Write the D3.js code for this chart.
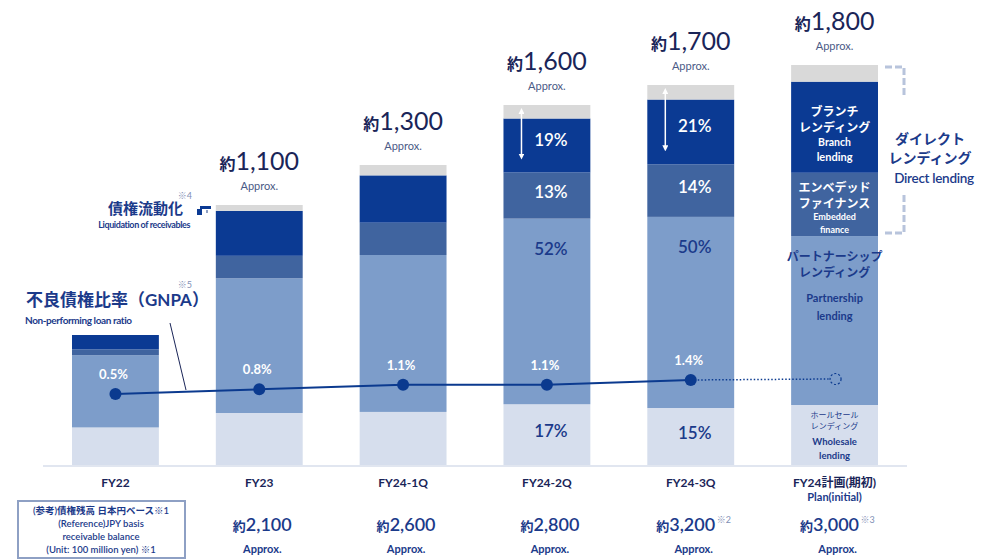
<!DOCTYPE html>
<html>
<head>
<meta charset="utf-8">
<script src="https://cdn.jsdelivr.net/npm/d3@7"></script>
<style>
  body { margin: 0; background: #fff; }
  text { font-family: Lato, "Noto Sans CJK JP", sans-serif; }
</style>
</head>
<body>
<div id="chart"></div>
<script>
// 区分・数値（単位：億円、図から読み取り）
var categories = ["FY22", "FY23", "FY24-1Q", "FY24-2Q", "FY24-3Q", "FY24計画(期初)"];
var categorySub = ["", "", "", "", "", "Plan(initial)"];
var totals = [450, 1100, 1300, 1600, 1700, 1800];
var showTotal = [false, true, true, true, true, true];
var liquidation = [0, 25, 45, 60, 65, 75];
var branch = [50, 190, 205, 240, 290, 410];
var embedded = [20, 95, 140, 205, 235, 285];
var partnership = [250, 570, 680, 825, 855, 760];
var wholesale = [130, 220, 230, 270, 255, 270];
// 構成比ラベル（%）
var branchPct = [null, null, null, 19, 21, null];
var embeddedPct = [null, null, null, 13, 14, null];
var partnershipPct = [null, null, null, 52, 50, null];
var wholesalePct = [null, null, null, 17, 15, null];
// 不良債権比率（GNPA, %）
var gnpa = [0.5, 0.8, 1.1, 1.1, 1.4];
// 債権残高 日本円ベース
var balance = [null, 2100, 2600, 2800, 3200, 3000];
var balanceNote = ["", "", "", "", "※2", "※3"];

var width = 998, height = 560;
var navy = "#1b3a8a", dark = "#1a2558";
var colors = {
    wholesale: "#d6deed",
    partnership: "#7d9dca",
    embedded: "#40649f",
    branch: "#0b3a93",
    liquidation: "#d9d9d9"
};
var keys = ["wholesale", "partnership", "embedded", "branch", "liquidation"];

var svg = d3.select("#chart").append("svg")
    .attr("width", width)
    .attr("height", height);

// 表を作る
var table = categories.map(function (c, i) {
    return {
        cat: c, total: totals[i],
        wholesale: wholesale[i], partnership: partnership[i],
        embedded: embedded[i], branch: branch[i], liquidation: liquidation[i]
    };
});
var series = d3.stack().keys(keys)(table);

var x = d3.scaleBand().domain(categories).range([72, 878]).paddingInner(0.396);
var y = d3.scaleLinear().domain([-200, 1800]).range([465, 65]);
var y2 = d3.scaleLinear().domain([0.5, 1.4]).range([394, 380]);

// 各棒の中の比例スケール
function segScale(d) {
    return d3.scaleLinear().domain([0, d.data.total]).range([y(-200), y(d.data.total)]);
}

// 基線
svg.append("line")
    .attr("x1", 43).attr("x2", 907)
    .attr("y1", y(-200) + 1).attr("y2", y(-200) + 1)
    .attr("stroke", "#e1e6f0").attr("stroke-width", 2);

// 積み上げ棒
var layer = svg.selectAll(".layer")
    .data(series)
    .enter().append("g")
    .attr("class", "layer")
    .attr("fill", function (d) { return colors[d.key]; });

layer.selectAll("rect")
    .data(function (d) { return d; })
    .enter().append("rect")
    .attr("x", function (d) { return x(d.data.cat); })
    .attr("width", x.bandwidth())
    .attr("y", function (d) { return segScale(d)(d[1]); })
    .attr("height", function (d) { return segScale(d)(d[0]) - segScale(d)(d[1]); });

function seg(key, i) {
    var s = series[keys.indexOf(key)][i];
    var sc = segScale(s);
    return {top: sc(s[1]), bottom: sc(s[0]), mid: (sc(s[0]) + sc(s[1])) / 2};
}

// 構成比ラベル
var pctGroups = [
    {arr: branchPct, key: "branch", fill: "#fff", pos: function (s) { return s.mid - 6; }},
    {arr: embeddedPct, key: "embedded", fill: "#fff", pos: function (s) { return s.mid - 4; }},
    {arr: partnershipPct, key: "partnership", fill: navy, pos: function (s) { return s.top + 30; }},
    {arr: wholesalePct, key: "wholesale", fill: navy, pos: function (s) { return s.mid - 4; }}
];
pctGroups.forEach(function (g) {
    g.arr.forEach(function (v, i) {
        if (v == null) return;
        svg.append("text")
            .attr("x", x(categories[i]) + x.bandwidth() / 2 + 4)
            .attr("y", g.pos(seg(g.key, i)) + 6)
            .attr("text-anchor", "middle")
            .attr("fill", g.fill)
            .style("font-size", "17px")
            .style("font-weight", 600)
            .text(v + "%");
    });
});

// 矢印（債権流動化の移動）
var defs = svg.append("defs");
defs.append("marker").attr("id", "arr")
    .attr("viewBox", "0 0 10 10").attr("refX", 5).attr("refY", 5)
    .attr("markerWidth", 4).attr("markerHeight", 4).attr("orient", "auto-start-reverse")
    .append("path").attr("d", "M0,0 L10,5 L0,10 z").attr("fill", "#fff");
[3, 4].forEach(function (i) {
    var l = seg("liquidation", i), b = seg("branch", i);
    svg.append("line")
        .attr("x1", x(categories[i]) + 18).attr("x2", x(categories[i]) + 18)
        .attr("y1", l.top + 6).attr("y2", b.bottom - 16)
        .attr("stroke", "#fff").attr("stroke-width", 1.5)
        .attr("marker-start", "url(#arr)").attr("marker-end", "url(#arr)");
});

// 合計ラベル
totals.forEach(function (t, i) {
    if (!showTotal[i]) return;
    var cx = x(categories[i]) + x.bandwidth() / 2;
    var top = y(t);
    var tx = svg.append("text")
        .attr("x", cx).attr("y", top - 35)
        .attr("text-anchor", "middle")
        .attr("fill", dark);
    tx.append("tspan").style("font-size", "16px").style("font-weight", 700).text("約");
    tx.append("tspan").style("font-size", "25px").text(d3.format(",")(t));
    svg.append("text")
        .attr("x", cx).attr("y", top - 15)
        .attr("text-anchor", "middle")
        .attr("fill", "#4a5a86")
        .style("font-size", "11px")
        .text("Approx.");
});

// 不良債権比率の折れ線
var line = d3.line()
    .x(function (d, i) { return x(categories[i]) + x.bandwidth() / 2; })
    .y(function (d) { return y2(d); });
svg.append("path")
    .datum(gnpa)
    .attr("d", line)
    .attr("fill", "none")
    .attr("stroke", "#0b3a8f")
    .attr("stroke-width", 2);

var lastX = x(categories[4]) + x.bandwidth() / 2;
var planX = x(categories[5]) + x.bandwidth() / 2;
svg.append("line")
    .attr("x1", lastX).attr("x2", planX - 6)
    .attr("y1", y2(gnpa[4])).attr("y2", y2(gnpa[4]) - 1)
    .attr("stroke", "#0b3a8f").attr("stroke-width", 1.5)
    .attr("stroke-dasharray", "1.5,2");
svg.append("circle")
    .attr("cx", planX + 1).attr("cy", y2(gnpa[4]) - 1).attr("r", 5.5)
    .attr("fill", "none").attr("stroke", "#0b3a8f").attr("stroke-width", 1.2)
    .attr("stroke-dasharray", "2,2");

svg.selectAll(".dot")
    .data(gnpa)
    .enter().append("circle")
    .attr("class", "dot")
    .attr("cx", function (d, i) { return x(categories[i]) + x.bandwidth() / 2; })
    .attr("cy", function (d) { return y2(d); })
    .attr("r", 6)
    .attr("fill", "#0b3a8f");

svg.selectAll(".gnpaLabel")
    .data(gnpa)
    .enter().append("text")
    .attr("class", "gnpaLabel")
    .attr("x", function (d, i) { return x(categories[i]) + x.bandwidth() / 2 - 2; })
    .attr("y", function (d) { return y2(d) - 15; })
    .attr("text-anchor", "middle")
    .attr("fill", "#fff")
    .style("font-size", "13px")
    .style("font-weight", 700)
    .text(function (d) { return d.toFixed(1) + "%"; });

// 左の注記
svg.append("text").attr("x", 192).attr("y", 199).attr("text-anchor", "end")
    .attr("fill", "#7f8fb5").style("font-size", "9px").text("※4");
svg.append("text").attr("x", 183).attr("y", 214).attr("text-anchor", "end")
    .attr("fill", navy).style("font-size", "15px").style("font-weight", 700).text("債権流動化");
svg.append("text").attr("x", 190).attr("y", 228).attr("text-anchor", "end")
    .attr("fill", navy).style("font-size", "9px").style("font-weight", 700)
    .style("letter-spacing", "-0.4px").text("Liquidation of receivables");
svg.append("rect").attr("x", 200).attr("y", 206).attr("width", 11).attr("height", 3).attr("fill", "#0b3a93");
svg.append("rect").attr("x", 197).attr("y", 209).attr("width", 5).attr("height", 6).attr("fill", "#0b3a93");
svg.append("rect").attr("x", 206).attr("y", 210).attr("width", 2).attr("height", 3).attr("fill", "#8ea0c4");

svg.append("text").attr("x", 192).attr("y", 288).attr("text-anchor", "end")
    .attr("fill", "#7f8fb5").style("font-size", "9px").text("※5");
svg.append("text").attr("x", 26).attr("y", 306)
    .attr("fill", navy).style("font-size", "17px").style("font-weight", 700).text("不良債権比率（GNPA）");
svg.append("text").attr("x", 25).attr("y", 324)
    .attr("fill", navy).style("font-size", "10px").style("font-weight", 700)
    .style("letter-spacing", "-0.4px").text("Non-performing loan ratio");
svg.append("line").attr("x1", 170).attr("y1", 323).attr("x2", 186).attr("y2", 390)
    .attr("stroke", "#1a2558").attr("stroke-width", 1);

// 区分ラベル
categories.forEach(function (c, i) {
    var cx = x(c) + x.bandwidth() / 2;
    svg.append("text").attr("x", cx).attr("y", 487).attr("text-anchor", "middle")
        .attr("fill", dark).style("font-size", "12px").style("font-weight", 700).text(c);
    if (categorySub[i]) {
        svg.append("text").attr("x", cx).attr("y", 501).attr("text-anchor", "middle")
            .attr("fill", navy).style("font-size", "11px").style("font-weight", 700).text(categorySub[i]);
    }
});

// 債権残高の行
svg.append("rect").attr("x", 18).attr("y", 501).attr("width", 167).attr("height", 57)
    .attr("fill", "none").attr("stroke", "#8ea0c4").attr("stroke-width", 2);
["(参考)債権残高 日本円ベース※1", "(Reference)JPY basis", "receivable balance", "(Unit: 100 million yen) ※1"]
    .forEach(function (t, k) {
        svg.append("text").attr("x", 101).attr("y", 514 + k * 13).attr("text-anchor", "middle")
            .attr("fill", navy).style("font-size", "9.5px").style("font-weight", 600).text(t);
    });

balance.forEach(function (b, i) {
    if (b == null) return;
    var cx = x(categories[i]) + x.bandwidth() / 2 + (balanceNote[i] ? -5 : 3);
    var t = svg.append("text").attr("x", cx).attr("y", 531).attr("text-anchor", "middle").attr("fill", navy);
    t.append("tspan").style("font-size", "13px").style("font-weight", 700).text("約");
    t.append("tspan").style("font-size", "18px").style("font-weight", 600).text(d3.format(",")(b));
    if (balanceNote[i]) {
        svg.append("text").attr("x", cx + 31).attr("y", 523)
            .attr("fill", "#7f8fb5").style("font-size", "9px").text(balanceNote[i]);
    }
    svg.append("text").attr("x", x(categories[i]) + x.bandwidth() / 2 + 3).attr("y", 553)
        .attr("text-anchor", "middle").attr("fill", navy)
        .style("font-size", "11px").style("font-weight", 700).text("Approx.");
});

// 計画棒の中の説明
var px = x(categories[5]) + x.bandwidth() / 2;
var bPlan = seg("branch", 5), ePlan = seg("embedded", 5), pPlan = seg("partnership", 5), wPlan = seg("wholesale", 5);
function put(tx, yy, size, fill, weight) {
    svg.append("text").attr("x", px).attr("y", yy).attr("text-anchor", "middle")
        .attr("fill", fill).style("font-size", size + "px").style("font-weight", weight || 700).text(tx);
}
put("ブランチ", bPlan.top + 34, 12, "#fff");
put("レンディング", bPlan.top + 50, 12, "#fff");
put("Branch", bPlan.top + 64, 10.5, "#fff");
put("lending", bPlan.top + 79, 11, "#fff");
put("エンベデッド", ePlan.top + 19, 12, "#fff");
put("ファイナンス", ePlan.top + 35, 12, "#fff");
put("Embedded", ePlan.top + 47, 9, "#fff");
put("finance", ePlan.top + 60, 9, "#fff");
put("パートナーシップ", pPlan.top + 25, 12, navy);
put("レンディング", pPlan.top + 41, 12, navy);
put("Partnership", pPlan.top + 66, 11, navy);
put("lending", pPlan.top + 84, 11, navy);
put("ホールセール", wPlan.top + 13, 8, navy, 400);
put("レンディング", wPlan.top + 24, 8, navy, 400);
put("Wholesale", wPlan.top + 40, 9.5, navy);
put("lending", wPlan.top + 54, 9.5, navy);

// ダイレクトレンディングの括弧
var bx = x(categories[5]) + x.bandwidth();
var lTop = seg("liquidation", 5).top + 2, eBot = ePlan.bottom - 3;
svg.append("path")
    .attr("d", "M" + (bx + 7) + "," + lTop + " H" + (bx + 26) + " V" + (lTop + 30))
    .attr("fill", "none").attr("stroke", "#b8c4dc").attr("stroke-width", 3)
    .attr("stroke-dasharray", "7,3");
svg.append("path")
    .attr("d", "M" + (bx + 26) + "," + (eBot - 38) + " V" + eBot + " H" + (bx + 7))
    .attr("fill", "none").attr("stroke", "#b8c4dc").attr("stroke-width", 3)
    .attr("stroke-dasharray", "7,3");
svg.append("text").attr("x", 930).attr("y", 144).attr("text-anchor", "middle")
    .attr("fill", navy).style("font-size", "14px").style("font-weight", 700).text("ダイレクト");
svg.append("text").attr("x", 930).attr("y", 163).attr("text-anchor", "middle")
    .attr("fill", navy).style("font-size", "14px").style("font-weight", 700).text("レンディング");
svg.append("text").attr("x", 934).attr("y", 183).attr("text-anchor", "middle")
    .attr("fill", navy).style("font-size", "13.5px").style("font-weight", 600)
    .style("letter-spacing", "-0.3px").text("Direct lending");
</script>
</body>
</html>
